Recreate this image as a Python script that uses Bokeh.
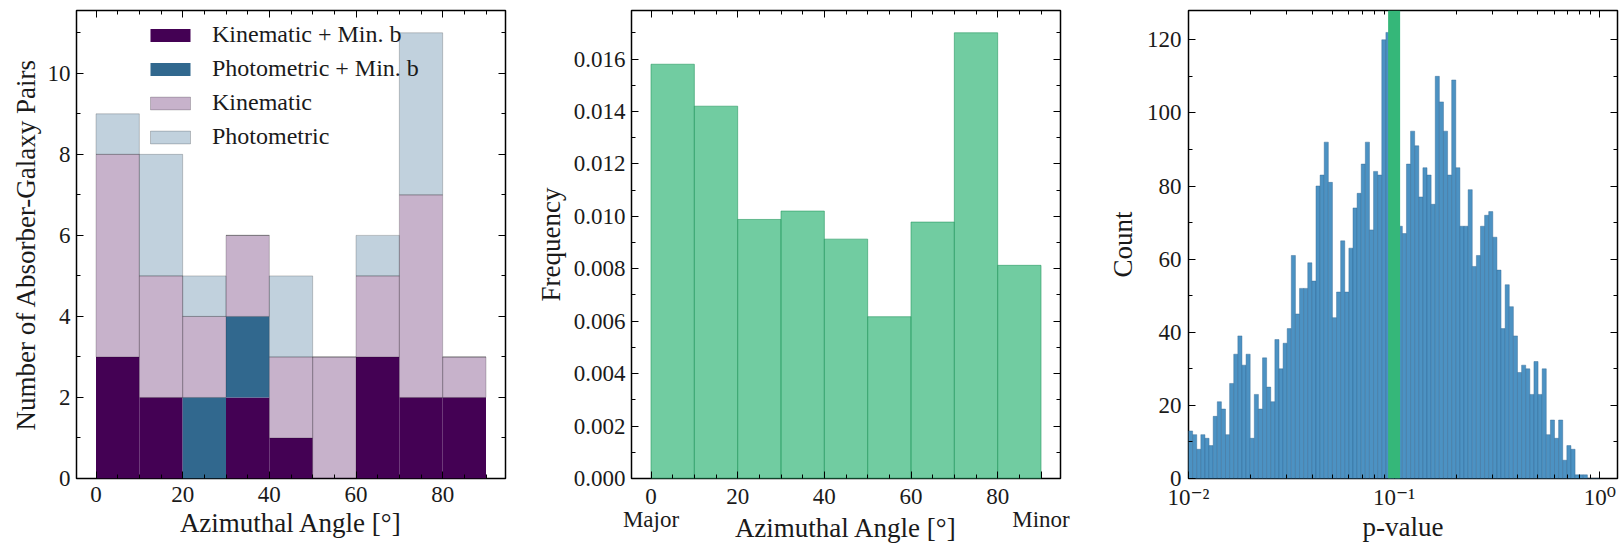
import numpy as np
from bokeh.plotting import figure
from bokeh.layouts import row
from bokeh.models import (ColumnDataSource, SingleIntervalTicker, FixedTicker, LinearAxis,
                          CustomJSTickFormatter, NumeralTickFormatter, Span, Range1d)
from bokeh.embed import file_html
from bokeh.resources import INLINE

# ---------------- data ----------------
# Left panel: stacked histogram of azimuthal angle
angle_edges = [0, 10, 20, 30, 40, 50, 60, 70, 80, 90]
kinematic_minb = [3, 2, 0, 2, 1, 0, 3, 2, 2]
photometric_minb = [0, 0, 2, 2, 0, 0, 0, 0, 0]
kinematic = [5, 3, 2, 2, 2, 3, 2, 5, 1]
photometric = [1, 3, 1, 0, 2, 0, 1, 4, 0]
legend_labels = ["Kinematic + Min. b", "Photometric + Min. b", "Kinematic", "Photometric"]

# Middle panel: normalised frequency
frequency = [0.0158, 0.0142, 0.00988, 0.0102, 0.00913, 0.00617, 0.00978, 0.0170, 0.00813]
angle_ticks = [0, 20, 40, 60, 80]
end_labels = ["Major", "Minor"]
end_positions = [0, 90]

# Right panel: p-value histogram (100 log bins between 1e-2 and 1e0)
pvalue_counts = [
    13, 12, 8, 12, 11, 9, 17, 21, 19, 12,
    26, 34, 39, 31, 34, 11, 23, 19, 33, 25,
    21, 38, 30, 37, 41, 61, 45, 52, 52, 59,
    54, 80, 83, 92, 81, 44, 51, 65, 51, 63,
    74, 78, 86, 92, 68, 84, 83, 120, 122, 118,
    112, 69, 67, 86, 95, 91, 77, 85, 83, 75,
    110, 103, 95, 83, 109, 85, 69, 69, 79, 58,
    61, 69, 72, 73, 66, 57, 41, 53, 47, 39,
    29, 31, 30, 23, 32, 23, 30, 12, 16, 11,
    16, 5, 9, 8, 1, 1, 1, 0, 0, 0,
]
pvalue_log_start, pvalue_log_stop = -2.0, 0.0
observed_pvalue = 0.1
pvalue_ticks = [0.01, 0.1, 1.0]
pvalue_tick_labels = ["10\u207b\u00b2", "10\u207b\u00b9", "10\u2070"]

# ---------------- style ----------------
FONT = "'Liberation Serif', 'DejaVu Serif', serif"
TXT = "#1a1a1a"
PURPLE = "#440154"
TEAL = "#31688e"
GREEN = "#35b779"
BLUE = "#4c92c3"
H = 547
TOP, BOTTOM = 10, 69
TICK_FS = "23px"
LABEL_FS = "27px"


def blank_formatter():
    return CustomJSTickFormatter(code="return '';")


def style_axis(ax, ticker, label_standoff, axis_label_standoff):
    ax.ticker = ticker
    ax.axis_line_color = None
    ax.major_tick_in = 7
    ax.major_tick_out = 0
    ax.minor_tick_in = 4
    ax.minor_tick_out = 0
    ax.major_tick_line_color = "black"
    ax.minor_tick_line_color = "black"
    ax.major_tick_line_width = 1
    ax.minor_tick_line_width = 1
    ax.major_label_text_font = FONT
    ax.major_label_text_font_size = TICK_FS
    ax.major_label_text_color = TXT
    ax.major_label_standoff = label_standoff
    ax.axis_label_text_font = FONT
    ax.axis_label_text_font_size = LABEL_FS
    ax.axis_label_text_font_style = "normal"
    ax.axis_label_text_color = TXT
    ax.axis_label_standoff = axis_label_standoff


def add_mirror(p, ticker, side):
    ax = LinearAxis(ticker=ticker, formatter=blank_formatter())
    ax.axis_line_color = None
    ax.major_tick_in = 7
    ax.major_tick_out = 0
    ax.minor_tick_in = 4
    ax.minor_tick_out = 0
    ax.major_tick_line_color = "black"
    ax.minor_tick_line_color = "black"
    ax.major_label_standoff = 0
    ax.major_label_text_font_size = "1px"
    p.add_layout(ax, side)


def base_fig(width, left, right, x_range, y_range, **kw):
    p = figure(width=width, height=H, x_range=x_range, y_range=y_range,
               output_backend="svg", toolbar_location=None,
               min_border_left=left, min_border_right=right,
               min_border_top=TOP, min_border_bottom=BOTTOM, **kw)
    p.xgrid.visible = False
    p.ygrid.visible = False
    p.outline_line_color = "black"
    p.outline_line_width = 1.5
    p.background_fill_color = "white"
    p.border_fill_color = "white"
    return p


# ---------------- left panel ----------------
x_centers = [(a + b) / 2 for a, b in zip(angle_edges[:-1], angle_edges[1:])]
src1 = ColumnDataSource(dict(x=x_centers, kmb=kinematic_minb, pmb=photometric_minb,
                             k=kinematic, ph=photometric))
p1 = base_fig(530, 76, 25, Range1d(-4.5, 94.5), Range1d(0, 11.55))
p1.vbar_stack(["kmb", "pmb", "k", "ph"], x="x", width=10, source=src1,
              fill_color=[PURPLE, TEAL, PURPLE, TEAL], fill_alpha=[1, 1, 0.3, 0.3],
              line_color="black", line_alpha=[0.0, 0.0, 0.25, 0.25], line_width=0.8,
              legend_label=legend_labels)
style_axis(p1.xaxis[0], SingleIntervalTicker(interval=20, num_minor_ticks=4), 8, 3)
style_axis(p1.yaxis[0], SingleIntervalTicker(interval=2, num_minor_ticks=2), 6, 4)
p1.xaxis[0].axis_label = "Azimuthal Angle [\u00b0]"
p1.yaxis[0].axis_label = "Number of Absorber-Galaxy Pairs"
add_mirror(p1, SingleIntervalTicker(interval=20, num_minor_ticks=4), "above")
add_mirror(p1, SingleIntervalTicker(interval=2, num_minor_ticks=2), "right")

lg = p1.legend[0]
lg.location = (69, 328)
lg.background_fill_alpha = 0
lg.border_line_alpha = 0
lg.padding = 0
lg.margin = 0
lg.spacing = 7
lg.glyph_width = 50
lg.glyph_height = 16
lg.label_height = 16
lg.label_standoff = 17
lg.label_text_font = FONT
lg.label_text_font_size = "24px"
lg.label_text_color = TXT

# ---------------- middle panel ----------------
p2 = base_fig(550, 101, 20, Range1d(-4.5, 94.5), Range1d(0, 0.01785))
p2.quad(left=angle_edges[:-1], right=angle_edges[1:], bottom=0, top=frequency,
        fill_color=GREEN, fill_alpha=0.7, line_color="#2a9a63", line_alpha=0.6, line_width=1)
mid_major = sorted(set(angle_ticks + end_positions))
mid_minor = [v for v in range(5, 90, 5) if v % 20]
style_axis(p2.xaxis[0], FixedTicker(ticks=mid_major, minor_ticks=mid_minor), 5, -22)
p2.xaxis[0].major_label_text_line_height = 0.95
p2.xaxis[0].formatter = CustomJSTickFormatter(
    args=dict(nums=angle_ticks, epos=end_positions, elab=end_labels),
    code="""
    const t = Math.round(tick);
    const first = nums.indexOf(t) >= 0 ? String(t) : ' ';
    const i = epos.indexOf(t);
    return i >= 0 ? first + '\\n' + elab[i] : first;
    """)
style_axis(p2.yaxis[0], SingleIntervalTicker(interval=0.002, num_minor_ticks=2), 6, 5)
p2.yaxis[0].formatter = NumeralTickFormatter(format="0.000")
p2.xaxis[0].axis_label = "Azimuthal Angle [\u00b0]"
p2.yaxis[0].axis_label = "Frequency"
add_mirror(p2, SingleIntervalTicker(interval=20, num_minor_ticks=4), "above")
add_mirror(p2, SingleIntervalTicker(interval=0.002, num_minor_ticks=2), "right")

# ---------------- right panel ----------------
edges = np.logspace(pvalue_log_start, pvalue_log_stop, len(pvalue_counts) + 1)
p3 = base_fig(542, 108, 5, Range1d(0.01, 1.22), Range1d(0, 128), x_axis_type="log")
p3.quad(left=edges[:-1], right=edges[1:], bottom=0, top=pvalue_counts,
        fill_color=BLUE, line_color="#2f6690", line_alpha=0.7, line_width=0.6)
p3.add_layout(Span(location=observed_pvalue, dimension="height", line_color=GREEN, line_width=12))
minor_log = [m * 10.0 ** k for k in (-2, -1, 0) for m in range(2, 10)]
xt = FixedTicker(ticks=pvalue_ticks, minor_ticks=minor_log)
style_axis(p3.xaxis[0], xt, 6, -1)
p3.xaxis[0].formatter = CustomJSTickFormatter(
    args=dict(tvals=pvalue_ticks, tlabels=pvalue_tick_labels),
    code="""
    for (let i = 0; i < tvals.length; i++) {
        if (Math.abs(Math.log10(tick) - Math.log10(tvals[i])) < 1e-6) { return tlabels[i]; }
    }
    return '';
    """)
style_axis(p3.yaxis[0], SingleIntervalTicker(interval=20, num_minor_ticks=2), 7, 6)
p3.xaxis[0].axis_label = "p-value"
p3.yaxis[0].axis_label = "Count"
add_mirror(p3, FixedTicker(ticks=pvalue_ticks, minor_ticks=minor_log), "above")
add_mirror(p3, SingleIntervalTicker(interval=20, num_minor_ticks=2), "right")

layout = row(p1, p2, p3)
open("out.html", "w").write(file_html(layout, INLINE))
